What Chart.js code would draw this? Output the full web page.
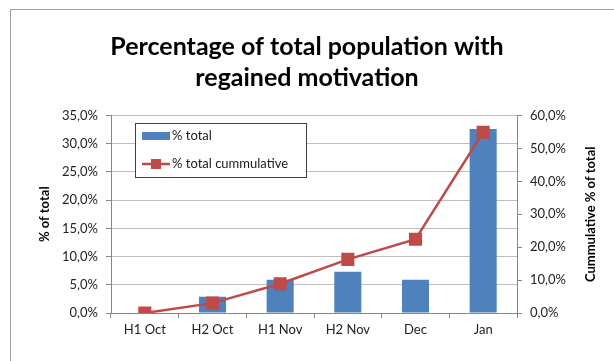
<!DOCTYPE html>
<html lang="en">
<head>
  <meta charset="UTF-8" />
  <title>Percentage of total population with regained motivation</title>
  <script src="https://cdn.jsdelivr.net/npm/chart.js"></script>
  <style>
    html, body { margin: 0; padding: 0; background: #fff; }
    .chart-container { width: 614px; height: 361px; position: relative; }
  </style>
</head>
<body>
  <div class="chart-container">
    <canvas id="motivationChart"></canvas>
  </div>

  <script>
    const categories = ['H1 Oct', 'H2 Oct', 'H1 Nov', 'H2 Nov', 'Dec', 'Jan'];
    const pctTotal = [0, 2.9, 5.9, 7.3, 5.9, 32.6];
    const pctCumulative = [0, 3.0, 8.9, 16.3, 22.4, 54.9];

    const barColor = '#4F81BD';
    const lineColor = '#BE4B48';
    const fontFamily = 'Lato, "Open Sans", sans-serif';
    const rightTitle = 'Cummulative % of total';

    const fmt = v => v.toFixed(1).replace('.', ',') + '%';

    // grey frame of the excel chart object
    const framePlugin = {
      id: 'frame',
      beforeDraw(chart) {
        const ctx = chart.ctx;
        ctx.save();
        ctx.strokeStyle = '#a0a0a0';
        ctx.lineWidth = 1;
        ctx.strokeRect(10.5, 9.5, 800, 600);
        ctx.restore();
      }
    };

    // excel writes the right axis title bottom-to-top, chart.js turns it the other way
    const rightTitlePlugin = {
      id: 'rightTitle',
      afterDraw(chart) {
        const ctx = chart.ctx;
        const area = chart.chartArea;
        ctx.save();
        ctx.translate(591, (area.top + area.bottom) / 2);
        ctx.rotate(-Math.PI / 2);
        ctx.font = 'bold 13px ' + fontFamily;
        ctx.fillStyle = '#000';
        ctx.textAlign = 'center';
        ctx.textBaseline = 'middle';
        ctx.fillText(rightTitle, 0, 0);
        ctx.restore();
      }
    };

    // legend box sitting inside the plot area
    const boxLegend = {
      id: 'boxLegend',
      afterDatasetsDraw(chart) {
        const ctx = chart.ctx;
        const bars = chart.data.datasets.find(d => d.type !== 'line');
        const line = chart.data.datasets.find(d => d.type === 'line');
        ctx.save();
        ctx.fillStyle = '#fff';
        ctx.fillRect(135, 123, 171, 54);
        ctx.strokeStyle = '#404040';
        ctx.lineWidth = 1;
        ctx.strokeRect(135.5, 123.5, 171, 54);

        ctx.fillStyle = barColor;
        ctx.fillRect(142, 132, 28, 8);

        ctx.strokeStyle = lineColor;
        ctx.lineWidth = 2.5;
        ctx.beginPath();
        ctx.moveTo(142, 164);
        ctx.lineTo(170, 164);
        ctx.stroke();
        ctx.fillStyle = lineColor;
        ctx.fillRect(151, 159, 10, 10);

        ctx.fillStyle = '#1a1a1a';
        ctx.font = '13px ' + fontFamily;
        ctx.textBaseline = 'middle';
        ctx.fillText(bars.label, 172, 136);
        ctx.fillText(line.label, 172, 164);
        ctx.restore();
      }
    };

    const tickFont = { family: fontFamily, size: 13 };
    const titleFont = { family: fontFamily, size: 13, weight: 'bold' };

    const config = {
      type: 'bar',
      data: {
        labels: categories,
        datasets: [
          {
            type: 'line',
            label: '% total cummulative',
            data: pctCumulative,
            yAxisID: 'y1',
            borderColor: lineColor,
            backgroundColor: lineColor,
            borderWidth: 2.5,
            pointStyle: 'rect',
            pointRadius: 7.5,
            pointHoverRadius: 7.5,
            tension: 0,
            order: 0
          },
          {
            label: '% total',
            data: pctTotal,
            yAxisID: 'y',
            backgroundColor: barColor,
            barPercentage: 0.4,
            categoryPercentage: 1,
            order: 1
          }
        ]
      },
      options: {
        responsive: true,
        maintainAspectRatio: false,
        animation: false,
        layout: { padding: { left: 0, right: 0, top: 0, bottom: 0 } },
        plugins: {
          legend: { display: false },
          tooltip: { enabled: false },
          title: {
            display: true,
            text: ['Percentage of total population with', 'regained motivation'],
            color: '#000',
            font: { family: fontFamily, size: 25, weight: 'bold', lineHeight: 1.25 },
            padding: { top: 31, bottom: 22 }
          }
        },
        scales: {
          x: {
            offset: true,
            grid: {
              offset: true,
              drawOnChartArea: false,
              drawTicks: true,
              tickLength: 5,
              tickColor: '#868686'
            },
            border: { color: '#868686' },
            ticks: { color: '#222', font: tickFont, padding: 4, maxRotation: 0 },
            afterFit(scale) { scale.height = 48; }
          },
          y: {
            position: 'left',
            min: 0,
            max: 35,
            ticks: {
              stepSize: 5,
              color: '#222',
              font: tickFont,
              padding: 8,
              callback: v => fmt(v)
            },
            grid: {
              color: '#bdbdbd',
              tickColor: '#868686',
              tickLength: 5
            },
            border: { color: '#868686' },
            title: {
              display: true,
              text: '% of total',
              color: '#000',
              font: titleFont,
              padding: { top: 37, bottom: 0 }
            },
            afterFit(scale) { scale.width = 111; }
          },
          y1: {
            position: 'right',
            min: 0,
            max: 60,
            ticks: {
              stepSize: 10,
              color: '#222',
              font: tickFont,
              padding: 8,
              callback: v => fmt(v)
            },
            grid: {
              drawOnChartArea: false,
              tickColor: '#868686',
              tickLength: 5
            },
            border: { color: '#868686' },
            title: { display: false },
            afterFit(scale) { scale.width = 97; }
          }
        }
      },
      plugins: [framePlugin, boxLegend, rightTitlePlugin]
    };

    new Chart(document.getElementById('motivationChart'), config);
  </script>
</body>
</html>
